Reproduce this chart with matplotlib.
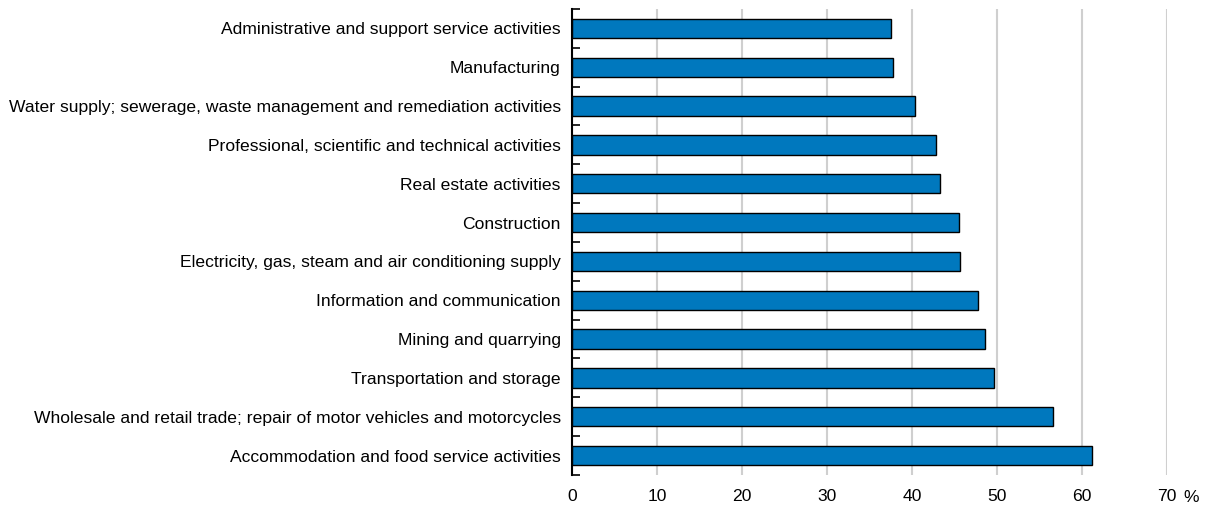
import matplotlib.pyplot as plt
from matplotlib.ticker import MultipleLocator

# Sectors, top to bottom
sectors = [
    "Administrative and support service activities",
    "Manufacturing",
    "Water supply; sewerage, waste management and remediation activities",
    "Professional, scientific and technical activities",
    "Real estate activities",
    "Construction",
    "Electricity, gas, steam and air conditioning supply",
    "Information and communication",
    "Mining and quarrying",
    "Transportation and storage",
    "Wholesale and retail trade; repair of motor vehicles and motorcycles",
    "Accommodation and food service activities",
]
shares = [37.5, 37.8, 40.3, 42.8, 43.3, 45.5, 45.6, 47.8, 48.6, 49.6, 56.6, 61.2]
x_ticks = [0, 10, 20, 30, 40, 50, 60, 70]

plt.rcParams['font.family'] = ['Liberation Sans', 'DejaVu Sans']

fig = plt.figure(figsize=(12.1, 5.16), dpi=100)
ax = fig.add_axes([0.4727, 0.0795, 0.4918, 0.9031])

ypos = list(range(len(sectors)))
ax.barh(ypos, shares, height=0.5, color='#0078BE', edgecolor='black',
        linewidth=1, zorder=3)

ax.set_xlim(0, 70)
ax.set_ylim(len(sectors) - 0.5, -0.5)
ax.set_xticks(x_ticks)
ax.set_yticks(ypos)
ax.set_yticklabels(sectors, fontsize=12.6)
ax.yaxis.set_minor_locator(MultipleLocator(1, offset=0.5))
ax.tick_params(axis='y', which='major', length=0, pad=8)
ax.tick_params(axis='y', which='minor', direction='in', length=6, width=1.2, color='black')
ax.tick_params(axis='x', length=0, pad=10, labelsize=12.6)

ax.grid(axis='x', color='#cfcfcf', linewidth=1.5, zorder=0)
for side in ['top', 'right', 'bottom']:
    ax.spines[side].set_visible(False)
ax.spines['left'].set_linewidth(1.5)
ax.spines['left'].set_zorder(4)

ax.annotate('%', xy=(1.0, 0), xycoords='axes fraction', xytext=(11.5, -16),
            textcoords='offset points', ha='left', va='center', fontsize=12.6)

fig.savefig('out.png', dpi=100)
